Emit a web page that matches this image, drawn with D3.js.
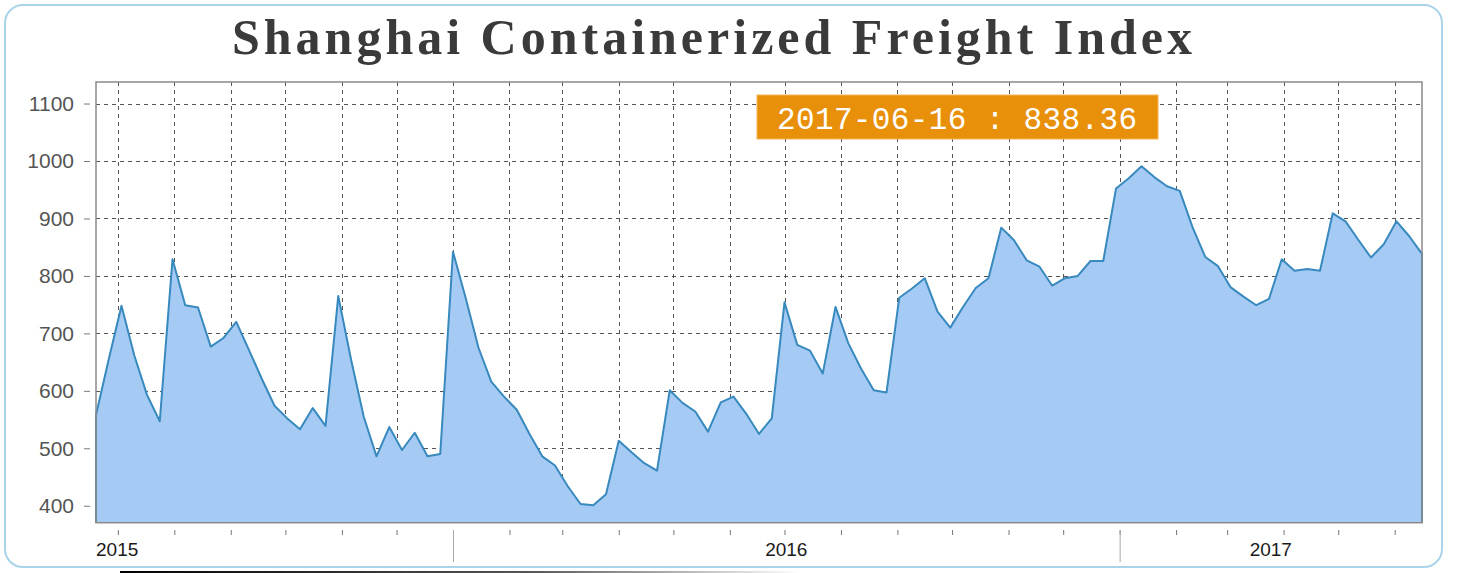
<!DOCTYPE html>
<html>
<head>
<meta charset="utf-8">
<script src="https://cdn.jsdelivr.net/npm/d3@7"></script>
<style>
  body { margin: 0; background: #fff; }
  svg { display: block; }
</style>
</head>
<body>
<div id="chart"></div>
<script>
// weekly index values, first week 2015-06-19, last 2017-06-16
const START_DATE = new Date(2015, 5, 19);
const VALUES = [558, 655, 748, 662, 593, 547, 829, 749, 745, 677,
                692, 720, 671, 621, 574, 552, 533, 570, 539, 765,
                655, 555, 486, 537, 497, 527, 486, 490, 842, 761,
                675, 616, 590, 567, 525, 486, 470, 434, 403, 401,
                420, 513, 493, 474, 461, 601, 579, 564, 529, 580,
                590, 560, 525, 552, 754, 680, 670, 630, 746, 683,
                639, 601, 597, 762, 778, 796, 738, 710, 746, 779,
                796, 884, 862, 827, 816, 783, 796, 800, 826, 826,
                952, 970, 991, 972, 956, 948, 885, 833, 817, 780,
                764, 749, 760, 829, 809, 812, 809, 909, 895, 863,
                832, 855, 895, 869, 838.36];
const Y_TICKS = [400, 500, 600, 700, 800, 900, 1000, 1100];
const YEAR_LABELS = ["2015", "2016", "2017"];
const TITLE = "Shanghai Containerized Freight Index";
const TIP_TEXT = "2017-06-16 : 838.36";

const WIDTH = 1460;
const HEIGHT = 573;
const PLOT = {left: 96, right: 1422, top: 82, bottom: 522.7};

const data = VALUES.map((v, i) => ({date: d3.timeDay.offset(START_DATE, 7 * i), value: v}));

const svg = d3.select("#chart")
              .append("svg")
                .attr("width", WIDTH)
                .attr("height", HEIGHT);

// outer rounded frame
svg.append("rect")
    .attr("x", 5).attr("y", 5)
    .attr("width", 1437).attr("height", 562)
    .attr("rx", 18)
    .attr("fill", "none")
    .attr("stroke", "#a9d3e8")
    .attr("stroke-width", 2);

// faded line at the very bottom
const grad = svg.append("defs").append("linearGradient")
    .attr("id", "fade").attr("x1", "0%").attr("x2", "100%");
grad.append("stop").attr("offset", "0%").attr("stop-color", "#000");
grad.append("stop").attr("offset", "60%").attr("stop-color", "#555");
grad.append("stop").attr("offset", "100%").attr("stop-color", "#fff");
svg.append("rect")
    .attr("x", 120).attr("y", 571)
    .attr("width", 680).attr("height", 2)
    .attr("fill", "url(#fade)");

// title
svg.append("text")
    .attr("x", 232).attr("y", 54)
    .attr("textLength", 960)
    .attr("lengthAdjust", "spacing")
    .attr("font-family", "'Liberation Serif', serif")
    .attr("font-weight", "bold")
    .attr("font-size", 50)
    .attr("fill", "#3a3a3a")
    .text(TITLE);

// scales
const X_SCALE = d3.scaleTime()
                  .domain([data[0].date, data[data.length - 1].date])
                  .range([PLOT.left, PLOT.right]);

const Y_SCALE = d3.scaleLinear()
                  .domain([370.5, 1137.5])
                  .range([PLOT.bottom, PLOT.top]);

const months = d3.timeMonth.range(d3.timeMonth.ceil(X_SCALE.domain()[0]), X_SCALE.domain()[1]);
const years = d3.timeYear.range(d3.timeYear.ceil(X_SCALE.domain()[0]), X_SCALE.domain()[1]);

// grid lines
const grid = svg.append("g")
                .attr("stroke", "#555")
                .attr("stroke-width", 1)
                .attr("stroke-dasharray", "4,4");

grid.selectAll(".hgrid")
    .data(Y_TICKS)
    .enter().append("line")
      .attr("class", "hgrid")
      .attr("x1", PLOT.left).attr("x2", PLOT.right)
      .attr("y1", d => Math.round(Y_SCALE(d)) + 0.5)
      .attr("y2", d => Math.round(Y_SCALE(d)) + 0.5);

grid.selectAll(".vgrid")
    .data(months)
    .enter().append("line")
      .attr("class", "vgrid")
      .attr("y1", PLOT.top).attr("y2", PLOT.bottom)
      .attr("x1", d => Math.round(X_SCALE(d)) + 0.5)
      .attr("x2", d => Math.round(X_SCALE(d)) + 0.5);

// area
const area = d3.area()
               .x(d => X_SCALE(d.date))
               .y0(PLOT.bottom)
               .y1(d => Y_SCALE(d.value));

svg.append("path")
    .datum(data)
    .attr("d", area)
    .attr("fill", "#a5cbf4");

// line, including the closing sides of the area
const line = d3.line()
               .x(d => X_SCALE(d.date))
               .y(d => d.value === null ? PLOT.bottom : Y_SCALE(d.value));

const edged = [{date: data[0].date, value: null}]
                .concat(data)
                .concat([{date: data[data.length - 1].date, value: null}]);

svg.append("path")
    .datum(edged)
    .attr("d", line)
    .attr("fill", "none")
    .attr("stroke", "#3889bd")
    .attr("stroke-width", 2)
    .attr("stroke-linejoin", "round");

// plot frame
svg.append("rect")
    .attr("x", PLOT.left).attr("y", PLOT.top)
    .attr("width", PLOT.right - PLOT.left)
    .attr("height", PLOT.bottom - PLOT.top)
    .attr("fill", "none")
    .attr("stroke", "#8a8a8a")
    .attr("stroke-width", 1.5);

// y-axis
const yAxis = svg.append("g")
                 .attr("transform", "translate(90,0)")
                 .call(d3.axisLeft(Y_SCALE).tickValues(Y_TICKS).tickFormat(d3.format("d"))
                         .tickSize(6).tickPadding(10));
yAxis.select(".domain").remove();
yAxis.selectAll("line").attr("stroke", "#777");
yAxis.selectAll("text")
     .attr("font-family", "'Liberation Sans', Arial, sans-serif")
     .attr("font-size", 21)
     .attr("fill", "#555");

// x-axis month ticks
const xAxis = svg.append("g")
                 .attr("transform", "translate(0,530)")
                 .call(d3.axisBottom(X_SCALE).tickValues(months).tickSize(5).tickFormat(""));
xAxis.select(".domain").remove();
xAxis.selectAll("line").attr("stroke", "#777");

// longer year ticks
const yearAxis = svg.append("g")
                    .attr("transform", "translate(0,530)")
                    .call(d3.axisBottom(X_SCALE).tickValues(years).tickSize(32).tickFormat(""));
yearAxis.select(".domain").remove();
yearAxis.selectAll("line").attr("stroke", "#aaa");

// year labels, centred in the span of each year
const bounds = [X_SCALE.domain()[0]].concat(years).concat([X_SCALE.domain()[1]]);
svg.selectAll(".year")
    .data(YEAR_LABELS)
    .enter().append("text")
      .attr("class", "year")
      .attr("x", (d, i) => i === 0 ? PLOT.left : (X_SCALE(bounds[i]) + X_SCALE(bounds[i + 1])) / 2)
      .attr("y", 556)
      .attr("text-anchor", (d, i) => i === 0 ? "start" : "middle")
      .attr("font-family", "'Liberation Sans', Arial, sans-serif")
      .attr("font-size", 19)
      .attr("fill", "#1a1a1a")
      .text(d => d);

// value label box
svg.append("rect")
    .attr("x", 757).attr("y", 95)
    .attr("width", 401).attr("height", 44)
    .attr("fill", "#e8900a")
    .attr("stroke", "#f3b457")
    .attr("stroke-width", 1);

svg.append("text")
    .attr("x", 957).attr("y", 129)
    .attr("text-anchor", "middle")
    .attr("textLength", 360)
    .attr("lengthAdjust", "spacing")
    .attr("font-family", "'Liberation Mono', monospace")
    .attr("font-size", 31)
    .attr("fill", "#fff")
    .text(TIP_TEXT);
</script>
</body>
</html>
